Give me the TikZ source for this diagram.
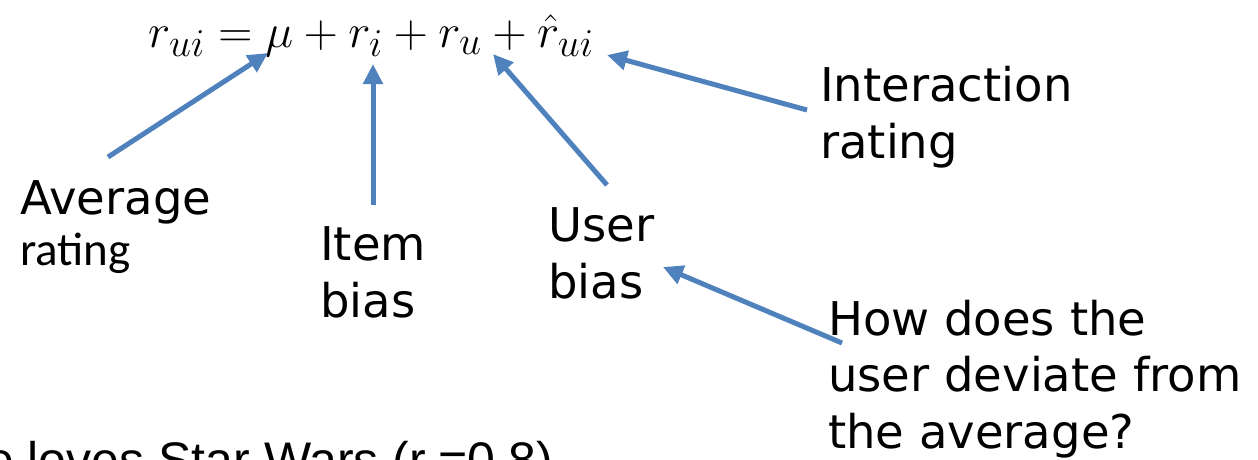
\documentclass[tikz,border=0pt]{standalone}
\usepackage{fontspec}
\newfontfamily\lblfont{DejaVu Sans}
\newfontfamily\calfont{Carlito}
\newfontfamily\arialfont{Liberation Sans}
\usetikzlibrary{arrows.meta,positioning}
\definecolor{ptrblue}{RGB}{79,129,189}
\tikzset{
  pointer/.style={draw=ptrblue,line width=5pt,-{Triangle[length=20pt,width=19pt]}},
  lbl/.style={anchor=base west,align=left,inner sep=0pt,font=\lblfont\fontsize{46.5}{56.5}\selectfont}
}

\begin{document}
\begin{tikzpicture}[x=1pt,y=-1pt]
\useasboundingbox (0,0) rectangle (1258,459);
% equation
\node[anchor=base west,inner sep=0pt] (eq) at (148,47)
  {\scalebox{1.9}{\Huge $r_{ui}=\mu+r_i+r_u+\hat{r}_{ui}$}};
% labels (anchored at the last line)
\node[lbl] (avg) at (20,265) {Average\\[-6pt]{\calfont\fontsize{47}{47}\selectfont rating}};
\node[lbl] (item) at (320,317) {Item\\bias};
\node[lbl] (user) at (548,298) {User\\bias};
\node[lbl] (inter) at (820,158) {Interaction\\rating};
\node[lbl] (dev) at (828,448) {How does the\\user deviate from\\the average?};
\node[anchor=base west,inner sep=0pt,font=\arialfont\fontsize{50}{50}\selectfont] (stars) at (-14,477)
  {e loves Star Wars (r\hspace{12pt}=0.8)};
% arrow ends
\coordinate (avgT) at (108,157);  \coordinate (avgH) at (268,53);
\coordinate (itemT) at (373,205); \coordinate (itemH) at (373,64);
\coordinate (userT) at (607,185); \coordinate (userH) at (493,54);
\coordinate (interT) at (807,110); \coordinate (interH) at (607,55);
\coordinate (devT) at (842,343);  \coordinate (devH) at (663,267);
\draw[pointer] (avgT) -- (avgH);
\draw[pointer] (itemT) -- (itemH);
\draw[pointer] (userT) -- (userH);
\draw[pointer] (interT) -- (interH);
\draw[pointer] (devT) -- (devH);
\end{tikzpicture}
\end{document}
